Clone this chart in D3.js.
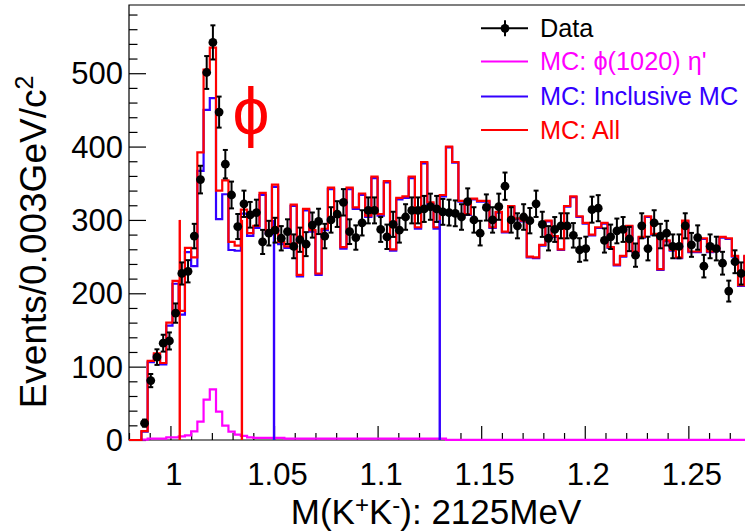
<!DOCTYPE html>
<html><head><meta charset="utf-8">
<script src="https://cdn.jsdelivr.net/npm/d3@7"></script>
<style>
body{margin:0;background:#fff}
svg{display:block}
text{font-family:"Liberation Sans",Arial,Helvetica,sans-serif}
</style>
</head><body>
<svg id="c" width="745" height="532"></svg>
<script>
// ---------------- data ----------------
const binLow = 0.98, binHigh = 1.28, binWidth = 0.003;
const yMax = 593;

// Data counts per bin (100 bins, 0.98 - 1.28)
const dataCounts = [
  0, 0, 23, 81, 113, 132, 135, 173, 227, 230,
  278, 355, 501, 542, 447, 376, 334, 291, 322, 307,
  310, 270, 282, 286, 275, 284, 264, 273, 267, 293,
  298, 278, 300, 308, 324, 284, 276, 296, 313, 313,
  287, 277, 294, 286, 304, 313, 313, 315, 318, 315,
  311, 310, 309, 304, 325, 300, 282, 317, 300, 318,
  346, 300, 292, 304, 299, 322, 294, 275, 287, 292,
  292, 279, 259, 261, 314, 316, 272, 277, 285, 287,
  274, 252, 292, 261, 296, 278, 282, 264, 264, 292,
  266, 276, 237, 264, 261, 241, 203, 243, 227, 0
];

// MC: All (red)
const mcAll = [
  0, 0, 12, 108, 118, 105, 160, 217, 176, 262,
  249, 392, 505, 535, 340, 354, 270, 265, 314, 282,
  292, 337, 284, 348, 270, 264, 321, 225, 315, 286,
  227, 288, 344, 306, 263, 344, 317, 336, 306, 359,
  308, 353, 260, 330, 332, 359, 290, 379, 324, 290,
  334, 400, 379, 326, 308, 329, 326, 326, 290, 311,
  284, 319, 302, 299, 250, 249, 266, 299, 278, 260,
  319, 332, 305, 296, 280, 290, 296, 263, 239, 251,
  292, 257, 277, 305, 281, 233, 272, 259, 249, 299,
  257, 257, 275, 257, 259, 277, 275, 251, 211, 251
];

// MC: Inclusive MC (blue)
const mcInclusive = [
  0, 0, 11.5, 106, 116, 103, 156, 213, 171, 256,
  237, 367, 450, 466, 301, 335, 259, 258, 308.5, 278.4,
  289, 334, 281, 345, 267, 262, 319, 223, 313, 284,
  225, 286, 342, 304, 261, 342, 315, 334, 304, 357,
  306, 351, 258, 328, 330, 357, 288, 377, 322, 288,
  332, 399, 378, 325, 307, 328, 325, 325, 289, 310,
  283, 318, 301, 298, 249, 248, 265, 298, 277, 259,
  318, 331, 304, 295, 279, 289, 295, 262, 238, 250,
  291, 256, 276, 304, 280, 232, 271, 258, 248, 298,
  256, 256, 274, 256, 258, 276, 274, 250, 210, 250
];

// MC: phi(1020) eta' (magenta)
const mcSignal = [
  0, 0, 0.5, 1.8, 1.8, 1.8, 3.6, 3.6, 5, 6.4,
  11.8, 25, 55, 69, 38.6, 19.5, 11.4, 7.3, 5.5, 3.6,
  3, 3, 3, 3, 3, 1.8, 1.8, 1.8, 1.8, 1.8,
  1.8, 1.8, 1.8, 1.8, 1.8, 1.8, 1.8, 1.8, 1.8, 1.8,
  1.8, 1.8, 1.8, 1.8, 1.8, 1.8, 1.8, 1.8, 1.8, 1.8,
  1.8, 0.3, 0.3, 0.3, 0.3, 0.3, 0.3, 0.3, 0.3, 0.3,
  0.3, 0.3, 0.3, 0.3, 0.3, 0.3, 0.3, 0.3, 0.3, 0.3,
  0.3, 0.3, 0.3, 0.3, 0.3, 0.3, 0.3, 0.3, 0.3, 0.3,
  0.3, 0.3, 0.3, 0.3, 0.3, 0.3, 0.3, 0.3, 0.3, 0.3,
  0.3, 0.3, 0.3, 0.3, 0.3, 0.3, 0.3, 0.3, 0.3, 0.3
];

// mass-window marker lines
const signalWindowX = [1.0045, 1.0345];
const sidebandX = [1.05, 1.13];
const windowLineTop = 300;

// axes
const xTicks = [1, 1.05, 1.1, 1.15, 1.2, 1.25];
const xTickLabels = ["1", "1.05", "1.1", "1.15", "1.2", "1.25"];
const yTicks = [0, 100, 200, 300, 400, 500];
const yTickLabels = ["0", "100", "200", "300", "400", "500"];

const legendLabels = ["Data", "MC: \u03D5(1020) \u03B7'", "MC: Inclusive MC", "MC: All"];

// ---------------- drawing ----------------
const svg = d3.select('#c');
svg.append('rect').attr('width', 745).attr('height', 532).attr('fill', '#fff');

const x = d3.scaleLinear().domain([binLow, binHigh]).range([129, 750.5]);
const y = d3.scaleLinear().domain([0, yMax]).range([440, 5]);

const RED = '#ff0000', BLUE = '#3300ff', MAG = '#ff00ff';

// frame
svg.append('path')
  .attr('d', `M${x(binLow)},${y(yMax)}H${x(binHigh)}V${y(0)}H${x(binLow)}Z`)
  .attr('fill', 'none').attr('stroke', '#000').attr('stroke-width', 1.2);

// y axis
const yMinor = d3.range(0, yMax, 20).filter(v => v % 100 !== 0);
const gy = svg.append('g').attr('transform', `translate(${x(binLow)},0)`);
gy.call(d3.axisLeft(y).tickValues(yMinor).tickSizeInner(-8.5).tickSizeOuter(0).tickFormat(''));
gy.call(g => g.select('.domain').remove());
const gy2 = svg.append('g').attr('transform', `translate(${x(binLow)},0)`);
gy2.call(d3.axisLeft(y).tickValues(yTicks).tickSizeInner(-17).tickSizeOuter(0).tickPadding(6)
  .tickFormat((d, i) => yTickLabels[i]));
gy2.call(g => g.select('.domain').remove());
gy2.selectAll('text').attr('font-size', 31).attr('dy', '0.34em')
  .attr('font-family', '"Liberation Sans",Arial,sans-serif').attr('fill', '#000');

// x axis
const xMinor = d3.range(0, 31).map(i => +(binLow + i * 0.01).toFixed(3)).filter(v => !xTicks.some(t => Math.abs(t - v) < 1e-6));
const gx = svg.append('g').attr('transform', `translate(0,${y(0)})`);
gx.call(d3.axisBottom(x).tickValues(xMinor).tickSizeInner(-7).tickSizeOuter(0).tickFormat(''));
gx.call(g => g.select('.domain').remove());
const gx2 = svg.append('g').attr('transform', `translate(0,${y(0)})`);
gx2.call(d3.axisBottom(x).tickValues(xTicks).tickSizeInner(-14).tickSizeOuter(0).tickPadding(0)
  .tickFormat((d, i) => xTickLabels[i]));
gx2.call(g => g.select('.domain').remove());
gx2.selectAll('text').attr('font-size', 31).attr('x', 3).attr('y', 44.5).attr('dy', 0)
  .attr('font-family', '"Liberation Sans",Arial,sans-serif').attr('fill', '#000');
svg.selectAll('.tick line').attr('stroke', '#000').attr('stroke-width', 1.2);

// histograms
function histPoints(vals) {
  const pts = [[binLow, 0]];
  vals.forEach((v, i) => {
    const lo = binLow + i * binWidth, hi = lo + binWidth;
    pts.push([lo, v], [hi, v]);
  });
  return pts;
}
const histLine = d3.line().x(d => x(d[0])).y(d => y(d[1]));
const plotG = svg.append('g');
[[mcSignal, MAG], [mcInclusive, BLUE], [mcAll, RED]].forEach(([vals, col]) => {
  plotG.append('path').attr('d', histLine(histPoints(vals)))
    .attr('fill', 'none').attr('stroke', col).attr('stroke-width', 2.2)
    .attr('stroke-linejoin', 'miter');
});

// window lines
plotG.selectAll('line.sig').data(signalWindowX).join('line')
  .attr('x1', d => x(d)).attr('x2', d => x(d))
  .attr('y1', y(0)).attr('y2', y(windowLineTop))
  .attr('stroke', RED).attr('stroke-width', 2.4);
plotG.selectAll('line.sb').data(sidebandX).join('line')
  .attr('x1', d => x(d)).attr('x2', d => x(d))
  .attr('y1', y(0)).attr('y2', y(windowLineTop))
  .attr('stroke', BLUE).attr('stroke-width', 2.4);

// data points
const pts = dataCounts.map((v, i) => ({ c: binLow + (i + 0.5) * binWidth, v }))
  .filter(d => d.v > 0);
const dg = svg.append('g');
dg.selectAll('line.err').data(pts).join('line')
  .attr('x1', d => x(d.c)).attr('x2', d => x(d.c))
  .attr('y1', d => y(d.v - Math.sqrt(d.v))).attr('y2', d => y(d.v + Math.sqrt(d.v)))
  .attr('stroke', '#000').attr('stroke-width', 2);
dg.selectAll('line.capT').data(pts).join('line')
  .attr('x1', d => x(d.c) - 2.5).attr('x2', d => x(d.c) + 2.5)
  .attr('y1', d => y(d.v + Math.sqrt(d.v))).attr('y2', d => y(d.v + Math.sqrt(d.v)))
  .attr('stroke', '#000').attr('stroke-width', 2);
dg.selectAll('line.capB').data(pts).join('line')
  .attr('x1', d => x(d.c) - 2.5).attr('x2', d => x(d.c) + 2.5)
  .attr('y1', d => y(d.v - Math.sqrt(d.v))).attr('y2', d => y(d.v - Math.sqrt(d.v)))
  .attr('stroke', '#000').attr('stroke-width', 2);
dg.selectAll('circle').data(pts).join('circle')
  .attr('cx', d => x(d.c)).attr('cy', d => y(d.v)).attr('r', 4.4).attr('fill', '#000');

// phi label
svg.append('text').attr('x', 251).attr('y', 134).attr('text-anchor', 'middle')
  .attr('font-family', '"Liberation Serif","DejaVu Serif",serif').attr('font-size', 66)
  .attr('fill', RED).text('\u03D5');

// legend
const legY = [28.3, 61.5, 96.5, 130];
const legCols = ['#000', MAG, BLUE, RED];
const lg = svg.append('g');
legendLabels.forEach((t, i) => {
  lg.append('line').attr('x1', 481).attr('x2', 528).attr('y1', legY[i]).attr('y2', legY[i])
    .attr('stroke', legCols[i]).attr('stroke-width', 2);
  lg.append('text').attr('x', 540).attr('y', legY[i] + 8.8).attr('font-size', 25.3)
    .attr('fill', legCols[i]).text(t);
});
lg.append('line').attr('x1', 505).attr('x2', 505).attr('y1', legY[0] - 8).attr('y2', legY[0] + 8)
  .attr('stroke', '#000').attr('stroke-width', 2);
lg.append('circle').attr('cx', 505).attr('cy', legY[0]).attr('r', 4.4).attr('fill', '#000');

// axis titles
const xt = svg.append('text').attr('x', 436).attr('y', 524).attr('text-anchor', 'middle')
  .attr('font-size', 35).attr('fill', '#000');
xt.append('tspan').text('M(K');
xt.append('tspan').attr('dy', -11).attr('font-size', 24).text('+');
xt.append('tspan').attr('dy', 11).text('K');
xt.append('tspan').attr('dy', -11).attr('font-size', 24).text('-');
xt.append('tspan').attr('dy', 11).text('): 2125MeV');

const yt = svg.append('text').attr('transform', 'translate(46,242) rotate(-90)')
  .attr('text-anchor', 'middle').attr('font-size', 37).attr('fill', '#000');
yt.append('tspan').text('Events/0.003GeV/c');
yt.append('tspan').attr('dy', -13).attr('font-size', 25).text('2');
</script>
</body></html>
